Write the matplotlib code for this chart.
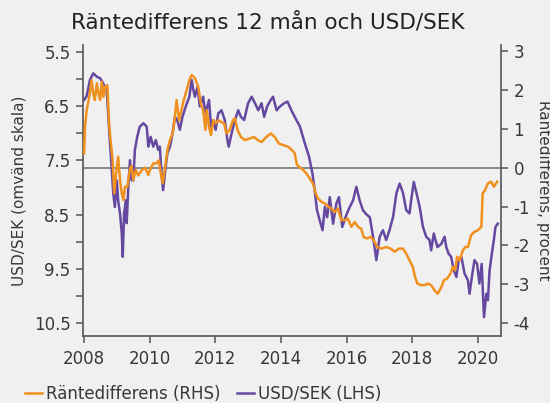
import matplotlib
matplotlib.use('Agg')
import matplotlib.pyplot as plt
import matplotlib.transforms as mtransforms
from matplotlib.ticker import MultipleLocator

plt.rcParams['font.family'] = ['DejaVu Sans']
plt.rcParams['axes.unicode_minus'] = False

# USD/SEK (left axis, inverted)
usd_years = [2008.00, 2008.08, 2008.18, 2008.28, 2008.39, 2008.49, 2008.58, 2008.69, 2008.79, 2008.84,
             2008.89, 2008.94, 2009.00, 2009.04, 2009.10, 2009.15, 2009.18, 2009.22, 2009.28, 2009.30,
             2009.35, 2009.40, 2009.45, 2009.50, 2009.55, 2009.62, 2009.70, 2009.81, 2009.91, 2009.96,
             2010.03, 2010.11, 2010.19, 2010.26, 2010.31, 2010.37, 2010.41, 2010.47, 2010.54, 2010.62,
             2010.70, 2010.77, 2010.84, 2010.92, 2011.00, 2011.10, 2011.21, 2011.28, 2011.33, 2011.38,
             2011.46, 2011.53, 2011.63, 2011.70, 2011.81, 2011.87, 2011.94, 2012.01, 2012.09, 2012.19,
             2012.29, 2012.37, 2012.41, 2012.50, 2012.60, 2012.70, 2012.78, 2012.88, 2013.00, 2013.11,
             2013.21, 2013.31, 2013.41, 2013.49, 2013.58, 2013.69, 2013.76, 2013.87, 2013.97, 2014.10,
             2014.20, 2014.32, 2014.42, 2014.58, 2014.73, 2014.86, 2014.96, 2015.03, 2015.10, 2015.18,
             2015.27, 2015.34, 2015.41, 2015.49, 2015.59, 2015.69, 2015.77, 2015.87, 2016.00, 2016.10,
             2016.20, 2016.30, 2016.40, 2016.50, 2016.61, 2016.71, 2016.81, 2016.91, 2017.01, 2017.11,
             2017.21, 2017.31, 2017.42, 2017.52, 2017.62, 2017.72, 2017.82, 2017.92, 2017.97, 2018.05,
             2018.13, 2018.23, 2018.33, 2018.43, 2018.53, 2018.58, 2018.66, 2018.77, 2018.89, 2018.99,
             2019.04, 2019.11, 2019.19, 2019.27, 2019.35, 2019.42, 2019.50, 2019.60, 2019.70, 2019.75,
             2019.82, 2019.90, 2019.98, 2020.05, 2020.12, 2020.19, 2020.26, 2020.31, 2020.36, 2020.43,
             2020.49, 2020.54, 2020.61]
usd_sek = [6.39, 6.32, 6.02, 5.90, 5.96, 5.99, 6.08, 6.20, 7.18, 7.62,
           8.11, 8.36, 7.87, 8.24, 8.50, 8.85, 9.28, 8.48, 8.24, 8.66,
           7.99, 7.50, 7.87, 7.87, 7.31, 7.07, 6.88, 6.82, 6.88, 7.25,
           7.07, 7.25, 7.13, 7.31, 7.25, 7.81, 8.05, 7.72, 7.37, 7.25,
           7.00, 6.70, 6.76, 6.94, 6.70, 6.51, 6.33, 6.02, 6.20, 6.33,
           6.15, 6.51, 6.33, 6.64, 6.39, 6.88, 6.76, 6.94, 6.64, 6.58,
           6.76, 7.13, 7.25, 7.00, 6.76, 6.58, 6.70, 6.76, 6.45, 6.33,
           6.45, 6.58, 6.45, 6.70, 6.51, 6.39, 6.33, 6.58, 6.51, 6.45,
           6.42, 6.58, 6.70, 6.88, 7.19, 7.44, 7.74, 8.05, 8.42, 8.60,
           8.79, 8.36, 8.55, 8.18, 8.67, 8.30, 8.18, 8.73, 8.50, 8.36,
           8.24, 7.99, 8.24, 8.42, 8.50, 8.55, 8.91, 9.34, 8.91, 8.79,
           8.97, 8.79, 8.54, 8.11, 7.93, 8.10, 8.42, 8.48, 8.24, 7.90,
           8.10, 8.36, 8.73, 8.91, 8.97, 9.16, 8.85, 9.10, 9.04, 8.91,
           9.10, 9.22, 9.28, 9.53, 9.65, 9.34, 9.28, 9.59, 9.71, 9.96,
           9.65, 9.34, 9.41, 9.77, 9.41, 10.39, 9.96, 10.08, 9.53, 9.22,
           8.97, 8.73, 8.67]

# Räntedifferens 12 mån (right axis, procent)
diff_years = [2008.00, 2008.03, 2008.08, 2008.16, 2008.23, 2008.28, 2008.33, 2008.39, 2008.44, 2008.49,
              2008.54, 2008.59, 2008.64, 2008.71, 2008.77, 2008.82, 2008.87, 2008.92, 2008.97, 2009.04,
              2009.10, 2009.15, 2009.20, 2009.25, 2009.32, 2009.40, 2009.45, 2009.50, 2009.58, 2009.65,
              2009.76, 2009.86, 2009.96, 2010.01, 2010.11, 2010.21, 2010.28, 2010.34, 2010.40, 2010.47,
              2010.54, 2010.62, 2010.70, 2010.77, 2010.82, 2010.90, 2010.97, 2011.04, 2011.13, 2011.21,
              2011.28, 2011.38, 2011.48, 2011.56, 2011.63, 2011.70, 2011.74, 2011.81, 2011.87, 2011.94,
              2012.01, 2012.09, 2012.17, 2012.27, 2012.34, 2012.44, 2012.54, 2012.60, 2012.68, 2012.78,
              2012.90, 2013.05, 2013.18, 2013.29, 2013.41, 2013.56, 2013.69, 2013.81, 2013.94, 2014.07,
              2014.22, 2014.34, 2014.42, 2014.49, 2014.55, 2014.68, 2014.78, 2014.88, 2014.98, 2015.06,
              2015.13, 2015.24, 2015.34, 2015.44, 2015.54, 2015.64, 2015.74, 2015.84, 2015.94, 2016.04,
              2016.15, 2016.25, 2016.35, 2016.45, 2016.52, 2016.62, 2016.73, 2016.83, 2016.93, 2017.06,
              2017.21, 2017.34, 2017.47, 2017.60, 2017.72, 2017.82, 2017.92, 2018.02, 2018.09, 2018.16,
              2018.28, 2018.38, 2018.48, 2018.58, 2018.68, 2018.78, 2018.89, 2018.97, 2019.07, 2019.17,
              2019.24, 2019.31, 2019.37, 2019.45, 2019.55, 2019.62, 2019.70, 2019.80, 2019.90, 2020.00,
              2020.11, 2020.15, 2020.22, 2020.31, 2020.41, 2020.49, 2020.59]
diff = [0.37, 1.05, 1.48, 1.82, 2.25, 1.91, 1.74, 2.17, 1.91, 1.74,
        2.21, 1.82, 2.08, 2.12, 1.05, 0.62, 0.19, -0.66, -0.20, 0.28,
        -0.34, -0.66, -0.83, -0.49, -0.49, -0.03, 0.05, -0.32, -0.06, -0.20,
        -0.06, 0.00, -0.19, -0.06, 0.11, 0.11, 0.19, -0.15, -0.40, 0.00,
        0.45, 0.71, 0.88, 1.31, 1.74, 1.22, 1.48, 1.74, 2.00, 2.25,
        2.38, 2.30, 2.08, 1.65, 1.48, 0.97, 1.48, 1.05, 0.84, 1.22,
        1.14, 1.22, 1.18, 1.14, 0.88, 0.97, 1.22, 1.27, 0.97, 0.79,
        0.71, 0.75, 0.79, 0.71, 0.66, 0.79, 0.88, 0.79, 0.62, 0.58,
        0.54, 0.45, 0.37, 0.07, 0.03, -0.06, -0.15, -0.28, -0.41, -0.66,
        -0.79, -0.88, -0.92, -1.00, -1.05, -1.14, -1.05, -1.35, -1.35, -1.31,
        -1.52, -1.40, -1.52, -1.57, -1.78, -1.82, -1.78, -1.86, -2.04, -2.08,
        -2.04, -2.08, -2.16, -2.08, -2.08, -2.21, -2.38, -2.55, -2.81, -2.98,
        -3.02, -3.02, -2.98, -3.02, -3.15, -3.24, -3.07, -2.89, -2.85, -2.72,
        -2.55, -2.64, -2.29, -2.38, -2.12, -2.04, -2.04, -1.73, -1.65, -1.61,
        -1.52, -0.66, -0.58, -0.40, -0.36, -0.49, -0.36]

year_ticks = [2008, 2010, 2012, 2014, 2016, 2018, 2020]
left_ticks = [5.5, 6.5, 7.5, 8.5, 9.5, 10.5]
right_ticks = [3, 2, 1, 0, -1, -2, -3, -4]

BG = '#eff0ef'
ORANGE = '#f0901e'
PURPLE = '#6548a0'
TXT = '#383838'
SPINE = '#555555'

fig = plt.figure(figsize=(5.5, 4.03), dpi=100, facecolor=BG)
ax = fig.add_axes([0.151, 0.166, 0.760, 0.722])
ax.set_facecolor(BG)
ax2 = ax.twinx()

l1, = ax.plot(usd_years, usd_sek, color=PURPLE, lw=1.8, label='USD/SEK (LHS)')
l2, = ax2.plot(diff_years, diff, color=ORANGE, lw=1.8, label='Räntedifferens (RHS)')

# zero line of the right axis, drawn under both series
trans = mtransforms.blended_transform_factory(ax.transAxes, ax2.transData)
ax.plot([0, 1], [0, 0], transform=trans, color='#888888', lw=1.4, zorder=0.5)

ax.set_xlim(2007.97, 2020.71)
ax.set_ylim(10.74, 5.38)
ax2.set_ylim(-4.33, 3.15)

ax.set_xticks(year_ticks)
ax.set_yticks(left_ticks)
ax.yaxis.set_minor_locator(MultipleLocator(0.5))
ax2.set_yticks(right_ticks)

for a in (ax, ax2):
    a.spines['top'].set_visible(False)
    for s in a.spines.values():
        s.set_color(SPINE)
        s.set_linewidth(1.2)
ax.spines['right'].set_visible(False)
ax2.spines['left'].set_visible(False)
ax2.spines['bottom'].set_visible(False)

ax.tick_params(axis='x', labelsize=12, colors=SPINE, labelcolor=TXT, length=5, width=1.1, pad=5)
ax.tick_params(axis='y', which='major', labelsize=12, colors=SPINE, labelcolor=TXT,
               length=5, width=1.1, pad=4)
ax.tick_params(axis='y', which='minor', length=5, width=1.1, colors=SPINE)
ax2.tick_params(axis='y', labelsize=12, colors=SPINE, labelcolor=TXT, length=5, width=1.1, pad=4)

ax.set_ylabel('USD/SEK (omvänd skala)', fontsize=11, color=TXT, labelpad=5)
ax2.set_ylabel('Räntedifferens, procent', fontsize=11, color=TXT, rotation=270,
               va='bottom', labelpad=4)

fig.text(0.487, 0.945, 'Räntedifferens 12 mån och USD/SEK', ha='center', va='center',
         fontsize=15.5, color='#222222')

fig.legend([l2, l1], ['Räntedifferens (RHS)', 'USD/SEK (LHS)'], loc='center left',
           bbox_to_anchor=(0.019, 0.022), ncol=2, frameon=False, fontsize=12,
           handlelength=1.0, handletextpad=0.25, columnspacing=1.0, labelcolor=TXT)

fig.savefig('out.png', dpi=100, facecolor=BG)
